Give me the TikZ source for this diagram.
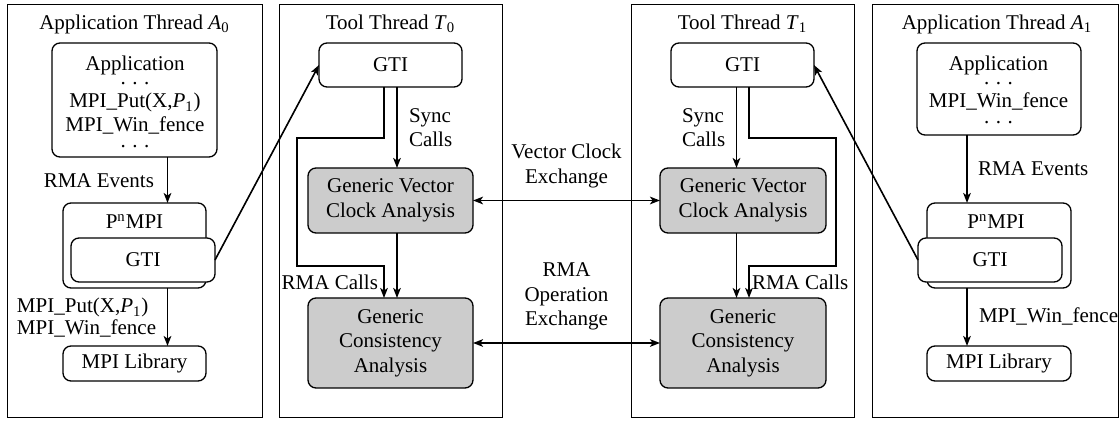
\documentclass[tikz,border=0pt]{standalone}
\usepackage{fontspec}
\setmainfont{Liberation Serif}
\usetikzlibrary{arrows.meta}
\newcommand\elide{.\kern3.3pt.\kern3.3pt.}
\newcommand\pnmpi{P\textsuperscript{n}MPI}
\begin{document}
\begin{tikzpicture}[x=0.5pt,y=-0.5pt,
  every node/.style={inner sep=0pt, outer sep=0pt, font=\fontsize{10.5}{12.25}\selectfont},
  panel/.style={draw, line width=0.5pt},
  blk/.style={draw, line width=0.65pt, rounded corners=4pt, fill=white, align=center},
  ana/.style={blk, fill=black!20},
  headed/.style={-{Stealth[length=5pt,width=3.8pt,inset=1.3pt]}},
  flow/.style={headed, line width=0.95pt},
  route/.style={headed, line width=1.4pt},
  link/.style={headed, line width=0.8pt},
  xchg/.style={{Stealth[length=5pt,width=3.8pt,inset=1.3pt]}-{Stealth[length=5pt,width=3.8pt,inset=1.3pt]}, line width=0.95pt},
]
\useasboundingbox (0,0) rectangle (1120,421);

% ---------- thread panels ----------
\node[panel, minimum width=127.5pt, minimum height=206.5pt] (panA0) at (134.5,211.5) {};
\node[panel, minimum width=111.5pt, minimum height=206.5pt] (panT0) at (390.5,211.5) {};
\node[panel, minimum width=111.5pt, minimum height=206.5pt] (panT1) at (742.5,211.5) {};
\node[panel, minimum width=123pt,   minimum height=206.5pt] (panA1) at (995,211.5) {};

\node[anchor=base] (ttlA0) at (134.5,29.5) {Application Thread \textit{A}\textsubscript{0}};
\node[anchor=base] (ttlT0) at (390.5,29.5) {Tool Thread \textit{T}\textsubscript{0}};
\node[anchor=base] (ttlT1) at (742.5,29.5) {Tool Thread \textit{T}\textsubscript{1}};
\node[anchor=base] (ttlA1) at (997,29.5) {Application Thread \textit{A}\textsubscript{1}};

% ---------- application thread A0 ----------
\node[blk, minimum width=82.5pt, minimum height=57pt] (appA0) at (134.5,100) {};
\node[align=center] (appA0t) at (135,102.3) {Application\\[-5.25pt]\elide\\[-0.75pt]MPI\_Put(X,\textit{P}\textsubscript{1})\\[-0.25pt]MPI\_Win\_fence\\[-4.25pt]\elide};

\node[blk, minimum width=71.5pt, minimum height=42.5pt] (pnA0) at (134.5,245.5) {};
\node[anchor=base] (pnA0t) at (134.5,229) {\pnmpi};
\node[blk, minimum width=72pt, minimum height=22pt] (gtiA0) at (143,260) {GTI};
\node[blk, minimum width=71.5pt, minimum height=17.5pt] (libA0) at (134.5,363.5) {MPI Library};

\coordinate (xA0) at (167.5,0);
\draw[flow] (appA0.south -| xA0) -- (pnA0.north -| xA0);
\draw[flow] (pnA0.south -| xA0) -- (libA0.north -| xA0);
\node[anchor=base east] (evA0) at (154,188) {RMA Events};
\node[anchor=base west] (callA0a) at (17,313) {MPI\_Put(X,\textit{P}\textsubscript{1})};
\node[anchor=base west] (callA0b) at (17,335) {MPI\_Win\_fence};

% ---------- tool thread T0 ----------
\node[blk, minimum width=71.5pt, minimum height=22pt] (gtiT0) at (390.5,65) {GTI};
\node[ana, minimum width=82.5pt, minimum height=32.5pt] (vcT0) at (390.5,200.5) {Generic Vector\\Clock Analysis};
\node[ana, minimum width=82.5pt, minimum height=45pt] (ccT0) at (390.5,343) {Generic\\Consistency\\Analysis};

\coordinate (sT0) at (397,0);
\coordinate (rT0) at (384,0);
\draw[flow] (gtiT0.south -| sT0) -- (vcT0.north -| sT0);
\draw[flow] (vcT0.south -| sT0) -- (ccT0.north -| sT0);
\draw[route] (gtiT0.south -| rT0) |- (297,138) |- (384,266) -- (ccT0.north -| rT0);
\node[anchor=base west] (syT0a) at (409,123) {Sync};
\node[anchor=base west] (syT0b) at (409,147) {Calls};
\node[anchor=base east] (rmT0) at (378,290) {RMA Calls};

% ---------- tool thread T1 ----------
\node[blk, minimum width=71.5pt, minimum height=22pt] (gtiT1) at (742.5,65) {GTI};
\node[ana, minimum width=83pt, minimum height=32.5pt] (vcT1) at (743,200.5) {Generic Vector\\Clock Analysis};
\node[ana, minimum width=83pt, minimum height=45pt] (ccT1) at (743,343) {Generic\\Consistency\\Analysis};

\coordinate (sT1) at (736.5,0);
\coordinate (rT1) at (749,0);
\draw[flow] (gtiT1.south -| sT1) -- (vcT1.north -| sT1);
\draw[flow] (vcT1.south -| sT1) -- (ccT1.north -| sT1);
\draw[route] (gtiT1.south -| rT1) |- (836,138) |- (749,266) -- (ccT1.north -| rT1);
\node[anchor=base west] (syT1a) at (682,123) {Sync};
\node[anchor=base west] (syT1b) at (682,147) {Calls};
\node[anchor=base west] (rmT1) at (752,290) {RMA Calls};

% ---------- exchanges between tool threads ----------
\draw[xchg] (vcT0.east) -- (vcT1.west);
\draw[xchg] (ccT0.east) -- (ccT1.west);
\node[anchor=base] (vxa) at (566.5,159) {Vector Clock};
\node[anchor=base] (vxb) at (566.5,184) {Exchange};
\node[anchor=base] (oxa) at (566.5,277) {RMA};
\node[anchor=base] (oxb) at (566.5,302) {Operation};
\node[anchor=base] (oxc) at (566.5,326) {Exchange};

% ---------- application thread A1 ----------
\node[blk, minimum width=82pt, minimum height=46pt] (appA1) at (999,89) {};
\node[align=center] (appA1t) at (998.5,90.3) {Application\\[-5.25pt]\elide\\[-0.75pt]MPI\_Win\_fence\\[-4.25pt]\elide};

\node[blk, minimum width=72pt, minimum height=42.5pt] (pnA1) at (999,245.5) {};
\node[anchor=base] (pnA1t) at (996,229) {\pnmpi};
\node[blk, minimum width=72pt, minimum height=22pt] (gtiA1) at (990,260) {GTI};
\node[blk, minimum width=72pt, minimum height=17.5pt] (libA1) at (999,363.5) {MPI Library};

\coordinate (xA1) at (967,0);
\draw[flow] (appA1.south -| xA1) -- (pnA1.north -| xA1);
\draw[flow] (pnA1.south -| xA1) -- (libA1.north -| xA1);
\node[anchor=base west] (evA1) at (978,176) {RMA Events};
\node[anchor=base west] (callA1) at (979,323) {MPI\_Win\_fence};

% ---------- links from the application GTI layers to the tool threads ----------
\draw[link] (gtiA0.east) -- (gtiT0.west);
\draw[link] (gtiA1.west) -- (gtiT1.east);
\end{tikzpicture}
\end{document}
